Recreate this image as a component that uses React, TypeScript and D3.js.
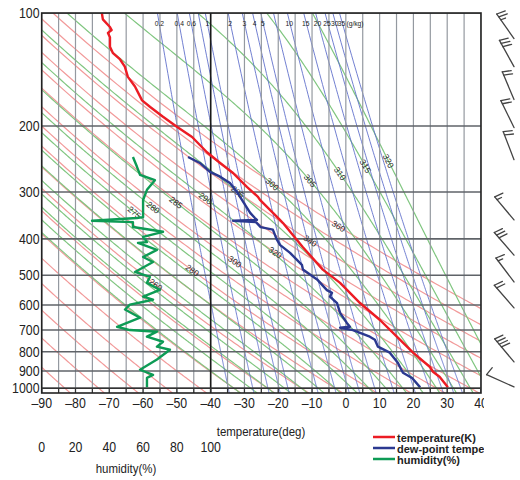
import React from 'react';
import * as d3 from 'd3';

// sounding, [pressure hPa, value]
const temperature: [number, number][] = [
  [100, -72.2], [104, -71.9], [109, -69.8], [111, -69.3], [113, -70.4], [116, -69.8],
  [123, -69.8], [128, -68.9], [133, -66.8], [139, -65.4], [148, -64.5], [157, -62.4],
  [171, -60.3], [178, -57.9], [189, -54.1], [201, -50], [214, -45.5], [235, -41.1],
  [251, -37.2], [267, -33.4], [291, -29.2], [309, -26], [315, -25.4], [356, -19.5],
  [363, -18.6], [421, -12.7], [483, -6.8], [524, -1.7], [593, 4.2], [658, 10.1],
  [729, 15.1], [804, 19.9], [878, 24.9], [904, 25.8], [934, 27.8], [994, 30.2],
];

const dewPoint: [number, number][] = [
  [242, -46.7], [251, -43.2], [265, -40.2], [273, -37.2], [284, -34.3], [300, -32.2],
  [309, -31.3], [341, -28.3], [352, -26.9], [356, -26.3], [358, -33.4], [361, -26.6],
  [372, -25.2], [378, -21.6], [402, -20.4], [415, -19.5], [436, -16.5], [469, -13],
  [483, -12.7], [513, -8.5], [548, -5.6], [557, -4.1], [570, -4.7], [593, -2.6],
  [630, -1.7], [670, 0.3], [686, 1.2], [690, -1.7], [700, 2.1], [729, 7.1], [743, 8.6],
  [775, 9.5], [804, 13], [856, 15.4], [910, 16.9], [939, 19.6], [994, 22],
];

const humidity: [number, number][] = [
  [242, 54], [257, 56.4], [270, 58.2], [279, 67], [296, 62.3], [315, 60], [350, 60],
  [352, 56.4], [358, 29.8], [361, 54], [372, 54], [383, 71.8], [395, 60], [408, 62.3],
  [410, 57], [428, 68.2], [447, 60], [461, 65.9], [490, 55.2], [505, 64], [524, 62.3],
  [547, 70], [570, 60], [581, 65.9], [599, 52.2], [617, 49.3], [649, 58.2], [686, 44.6],
  [700, 52.2], [707, 68.2], [729, 62.3], [752, 71.8], [775, 68.2], [790, 75.9],
  [839, 68.2], [893, 58.2], [922, 65.9], [939, 62.3], [994, 62.3],
];

// wind barbs
const windPressure = [117, 139, 170, 202, 246, 356, 442, 521, 611, 851, 992];
const windDirection = [325, 331, 337, 334, 339, 320, 319, 323, 319, 320, 294];
const windSpeed = [25, 30, 20, 20, 20, 15, 30, 15, 20, 40, 10];

const pressureTicks = [100, 200, 300, 400, 500, 600, 700, 800, 900, 1000];
const temperatureTicks = [-90, -80, -70, -60, -50, -40, -30, -20, -10, 0, 10, 20, 30, 40];
const humidityTicks = [0, 20, 40, 60, 80, 100];

// background lines (K and g/kg)
const dryAdiabats = [190, 200, 210, 220, 230, 240, 250, 260, 270, 280, 290, 300, 310, 320, 330, 340, 350, 360];
const moistAdiabats = [240, 245, 250, 255, 260, 265, 270, 275, 280, 285, 290, 295, 300, 305, 310, 315, 320];
const mixingRatios = [0.2, 0.4, 0.6, 0.8, 1, 2, 3, 4, 5, 7, 10, 15, 20, 25, 30, 35];
const mixingLabels = ['0.2', '0.4', '0.6', '', '1', '2', '3', '4', '5', '', '10', '15', '20', '25', '30', '35'];
const dryLabels: [number, number][] = [[260, 531], [280, 486], [300, 461], [320, 433], [340, 403], [360, 372]];
const moistLabels: [number, number][] = [
  [275, 339], [280, 329], [285, 319], [290, 311], [295, 300],
  [300, 285], [305, 279], [310, 268], [315, 256], [320, 248],
];

const font = "'Liberation Sans', Arial, sans-serif";

const satVap = (tc: number) => 6.112 * Math.exp((17.67 * tc) / (tc + 243.5));
const dewFromE = (e: number) => {
  const l = Math.log(e / 6.112);
  return (243.5 * l) / (17.67 - l);
};

const levels = d3.range(100, 1031, 5);

const dryLine = (theta: number): [number, number][] =>
  levels.map(p => [p, theta * Math.pow(p / 1000, 0.2857) - 273.15]);

const mixLine = (w: number): [number, number][] =>
  levels.map(p => {
    const r = w / 1000;
    return [p, dewFromE((r * p) / (0.622 + r))];
  });

const lapse = (T: number, p: number) => {
  const e = satVap(T - 273.15);
  const r = (0.622 * e) / (p - e);
  return (287.04 * T + 2.501e6 * r) / (1005.7 + (2.501e6 * 2.501e6 * r * 0.622) / (287.04 * T * T)) / p;
};

const integrate = (T0: number, p0: number, p1: number, h: number): [number, number][] => {
  const out: [number, number][] = [[p0, T0 - 273.15]];
  let T = T0;
  let p = p0;
  while ((h < 0 && p > p1) || (h > 0 && p < p1)) {
    const k1 = lapse(T, p);
    const k2 = lapse(T + (h / 2) * k1, p + h / 2);
    const k3 = lapse(T + (h / 2) * k2, p + h / 2);
    const k4 = lapse(T + h * k3, p + h);
    T += (h / 6) * (k1 + 2 * k2 + 2 * k3 + k4);
    p += h;
    out.push([p, T - 273.15]);
  }
  return out;
};

const moistLine = (thw: number): [number, number][] =>
  integrate(thw, 1000, 1030, 5).reverse().concat(integrate(thw, 1000, 100, -2).slice(1));

// condensed text, like the narrow face of the original
const T = ({ x, y, size, anchor = 'middle', bold = false, sx = 0.85, children }: any) => (
  <text
    transform={`translate(${x},${y}) scale(${sx},1)`}
    fontSize={size}
    textAnchor={anchor}
    fontWeight={bold ? 'bold' : 'normal'}
  >
    {children}
  </text>
);

const App = () => {
  const x = d3.scaleLinear().domain([-90, 40]).range([41.7, 481]);
  const xh = d3.scaleLinear().domain([0, 100]).range([41.7, x(-40)]);
  const y = d3.scaleLog().domain([100, 1030]).range([13, 393]);

  const line = d3.line<[number, number]>().x(d => x(d[1])).y(d => y(d[0]));
  const hline = d3.line<[number, number]>().x(d => xh(d[1])).y(d => y(d[0]));

  const moistLines = moistAdiabats.map(moistLine);

  const labelAt = (pts: [number, number][], p: number) => {
    const i = d3.minIndex(pts, d => Math.abs(d[0] - p));
    const a = pts[Math.max(i - 3, 0)];
    const b = pts[Math.min(i + 3, pts.length - 1)];
    const ang = (Math.atan2(y(b[0]) - y(a[0]), x(b[1]) - x(a[1])) * 180) / Math.PI;
    return { px: x(pts[i][1]), py: y(pts[i][0]), ang: ang > 90 ? ang - 180 : ang < -90 ? ang + 180 : ang };
  };

  const barbs = windPressure.map((p, i) => {
    const sx = 514;
    const sy = y(p);
    const rad = (windDirection[i] * Math.PI) / 180;
    const ux = Math.sin(rad);
    const uy = -Math.cos(rad);
    const tx = sx + 30 * ux;
    const ty = sy + 30 * uy;
    const a = (105 * Math.PI) / 180;
    const fx = ux * Math.cos(a) - uy * Math.sin(a);
    const fy = ux * Math.sin(a) + uy * Math.cos(a);
    const segs = [[sx, sy, tx, ty]];
    const full = Math.floor(windSpeed[i] / 10);
    const half = windSpeed[i] % 10 >= 5;
    let pos = 0;
    for (let k = 0; k < full; k++) {
      const bx = tx - pos * ux;
      const by = ty - pos * uy;
      segs.push([bx, by, bx + 9 * fx, by + 9 * fy]);
      pos += 3.5;
    }
    if (half) {
      const bx = tx - pos * ux;
      const by = ty - pos * uy;
      segs.push([bx, by, bx + 5 * fx, by + 5 * fy]);
    }
    return segs;
  });

  return (
    <svg width={520} height={480} style={{ position: 'absolute', left: 0, top: 0, background: '#fff' }} fontFamily={font}>
      <defs>
        <clipPath id="plot">
          <rect x={41.7} y={13} width={481 - 41.7} height={380} />
        </clipPath>
        <clipPath id="cut">
          <rect x={0} y={395} width={484} height={85} />
        </clipPath>
      </defs>

      <g clipPath="url(#plot)" fill="none">
        {dryAdiabats.map(th => (
          <path key={th} d={line(dryLine(th)) || ''} stroke="#f29a9a" strokeWidth={1.2} />
        ))}
        {moistLines.map((pts, i) => (
          <path key={moistAdiabats[i]} d={line(pts) || ''} stroke="#80c680" strokeWidth={1.2} />
        ))}
        {mixingRatios.map(w => (
          <path key={w} d={line(mixLine(w)) || ''} stroke="#6272cc" strokeWidth={0.9} />
        ))}
        {d3.range(-90, 41, 5).map(t => (
          <line key={t} x1={x(t)} x2={x(t)} y1={13} y2={393} stroke="#9499a0" strokeWidth={1.2} />
        ))}
        {pressureTicks.map(p => (
          <line key={p} x1={41.7} x2={481} y1={y(p)} y2={y(p)} stroke="#5f6368" strokeWidth={1.6} />
        ))}
        <line x1={x(-40)} x2={x(-40)} y1={13} y2={393} stroke="#1a1a1a" strokeWidth={1.6} />
        {d3.range(-90, 41, 5).map(t => (
          <line key={'tk' + t} x1={x(t)} x2={x(t)} y1={389} y2={393} stroke="#333" strokeWidth={1.2} />
        ))}
      </g>

      <g fontSize={8.5} fill="#2a2a2a" textAnchor="middle">
        {dryLabels.map(([th, p]) => {
          const l = labelAt(dryLine(th), p);
          return (
            <text key={'d' + th} transform={`translate(${l.px},${l.py}) rotate(${l.ang})`} dy="0.35em">{th}</text>
          );
        })}
        {moistLabels.map(([th, p]) => {
          const l = labelAt(moistLines[moistAdiabats.indexOf(th)], p);
          return (
            <text key={'m' + th} transform={`translate(${l.px},${l.py}) rotate(${l.ang})`} dy="0.35em">{th}</text>
          );
        })}
      </g>

      <g fill="#222">
        {mixingRatios.map((w, i) =>
          mixingLabels[i] ? (
            <T key={'w' + w} x={x(mixLine(w)[0][1]) + 2} y={26} size={7.5} sx={0.9}>{mixingLabels[i]}</T>
          ) : null
        )}
        <T x={355} y={26} size={7.5} sx={0.9}>(g/kg)</T>
      </g>

      <path d={hline(humidity) || ''} fill="none" stroke="#0d9b55" strokeWidth={2.4} strokeLinejoin="round" />
      <path d={line(dewPoint) || ''} fill="none" stroke="#2b3990" strokeWidth={2.4} strokeLinejoin="round" />
      <path d={line(temperature) || ''} fill="none" stroke="#ec1c24" strokeWidth={2.4} strokeLinejoin="round" />

      <rect x={41.7} y={13} width={481 - 41.7} height={380} fill="none" stroke="#222" strokeWidth={1.6} />
      <line x1={41.7} x2={481} y1={y(1000)} y2={y(1000)} stroke="#333" strokeWidth={1.4} />

      <g fill="#222">
        {pressureTicks.map(p => (
          <T key={p} x={39.5} y={y(p) + 5} size={14.5} anchor="end">{p}</T>
        ))}
      </g>

      <g clipPath="url(#cut)" fill="#222">
        {temperatureTicks.map(t => (
          <T key={t} x={x(t)} y={408} size={14.5}>{t < 0 ? '\u2013' + Math.abs(t) : t}</T>
        ))}
        <T x={261} y={436} size={13.5}>temperature(deg)</T>
        {humidityTicks.map(h => (
          <T key={h} x={xh(h)} y={452} size={14.5}>{h}</T>
        ))}
        <T x={126} y={473} size={13.5}>humidity(%)</T>

        <line x1={373} x2={395} y1={437} y2={437} stroke="#ec1c24" strokeWidth={2.5} />
        <line x1={373} x2={395} y1={448} y2={448} stroke="#2b3990" strokeWidth={2.5} />
        <line x1={373} x2={395} y1={459} y2={459} stroke="#0d9b55" strokeWidth={2.5} />
        <T x={397} y={441.5} size={11} anchor="start" bold sx={1}>temperature(K)</T>
        <T x={397} y={452.5} size={11} anchor="start" bold sx={1}>dew-point temperature(K)</T>
        <T x={397} y={463.5} size={11} anchor="start" bold sx={1}>humidity(%)</T>
      </g>

      <g stroke="#444" strokeWidth={1.3} strokeLinecap="round">
        {barbs.flat().map((s, i) => (
          <line key={i} x1={s[0]} y1={s[1]} x2={s[2]} y2={s[3]} />
        ))}
      </g>
    </svg>
  );
};

export default App;
